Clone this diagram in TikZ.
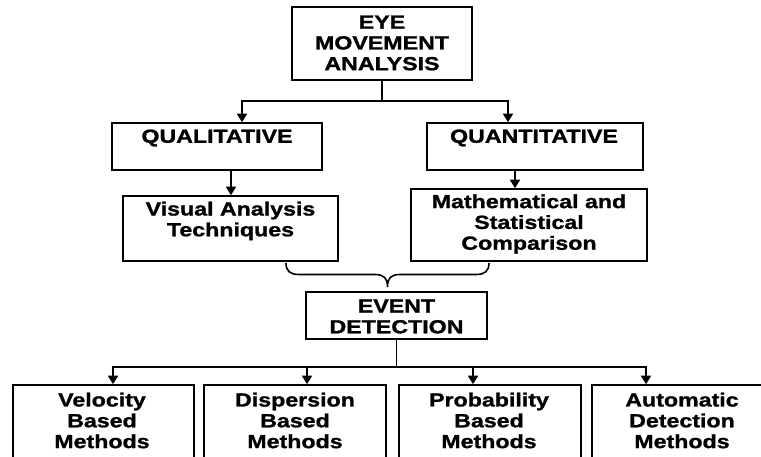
\documentclass[tikz,border=0pt]{standalone}
\usepackage{fontspec}
\newfontfamily\boxfont[FakeStretch=1.22,FakeBold=1.2]{Liberation Sans Bold}
\usetikzlibrary{arrows.meta,calc}
\begin{document}
\begin{tikzpicture}[x=1pt,y=-1pt,
  box/.style={draw=black, line width=1.6pt, fill=white, inner sep=0pt},
  lbl/.style={font=\boxfont\fontsize{19}{20.8}\selectfont, align=center, inner sep=0pt},
  conn/.style={line width=1.6pt},
  arr/.style={conn, -{Triangle[width=10pt,length=8.5pt]}}]
\useasboundingbox (0,0) rectangle (761,457);
\fill[white] (0,0) rectangle (761,457);
\clip (0,0) rectangle (761,457);

% root
\node[box, minimum width=180pt, minimum height=73pt] (top) at (382,43.5) {};
\node[lbl] (topT) at (382,43) {EYE\\MOVEMENT\\ANALYSIS};

% second level
\node[box, minimum width=210pt, minimum height=47pt] (qual) at (217,146.5) {};
\node[lbl] (qualT) at (217,138) {QUALITATIVE};
\node[box, minimum width=216pt, minimum height=47pt] (quant) at (535,146.5) {};
\node[lbl] (quantT) at (534,138) {QUANTITATIVE};

% third level
\node[box, minimum width=215pt, minimum height=65pt] (visual) at (230.5,228.5) {};
\node[lbl] (visualT) at (230.5,221) {Visual Analysis\\Techniques};
\node[box, minimum width=236pt, minimum height=72pt] (math) at (529,225) {};
\node[lbl] (mathT) at (529,224) {Mathematical and\\Statistical\\Comparison};

% event detection
\node[box, minimum width=181pt, minimum height=47pt] (event) at (396.5,315.5) {};
\node[lbl] (eventT) at (396.5,316.5) {EVENT\\DETECTION};

% methods (run past the lower edge)
\node[box, minimum width=181pt, minimum height=85pt] (vel) at (103.5,427.5) {};
\node[lbl] (velT) at (102,420.5) {Velocity\\Based\\Methods};
\node[box, minimum width=182pt, minimum height=85pt] (disp) at (295,427.5) {};
\node[lbl] (dispT) at (295,420.5) {Dispersion\\Based\\Methods};
\node[box, minimum width=182pt, minimum height=85pt] (prob) at (490,427.5) {};
\node[lbl] (probT) at (489,420.5) {Probability\\Based\\Methods};
\node[box, minimum width=181pt, minimum height=85pt] (auto) at (682.5,427.5) {};
\node[lbl] (autoT) at (682,420.5) {Automatic\\Detection\\Methods};

% root split
\draw[conn] (top.south) -- ++(0,20) coordinate (split1);
\coordinate (qualIn) at ($(qual.north)+(25,0)$);
\coordinate (quantIn) at ($(quant.north)+(-27,0)$);
\draw[arr] (split1) -| (qualIn);
\draw[arr] (split1) -| (quantIn);

% down to the techniques
\coordinate (qualOut) at ($(qual.south)+(14,0)$);
\draw[arr] (qualOut) -- (qualOut |- visual.north);
\coordinate (quantOut) at ($(quant.south)+(-20,0)$);
\draw[arr] (quantOut) -- (quantOut |- math.north);

% brace joining both techniques
\coordinate (braceL) at (286,263);
\coordinate (braceR) at (489,263);
\coordinate (braceTip) at (387.5,287);
\draw[conn] (braceL) .. controls (286,271) and (290,274.5) .. (299,274.5)
  -- (375,274.5) .. controls (384,274.5) and (387.5,278) .. (braceTip)
  .. controls (387.5,278) and (391,274.5) .. (400,274.5)
  -- (476,274.5) .. controls (485,274.5) and (489,271) .. (braceR);

% event split
\draw[conn] (event.south) -- ++(0,27) coordinate (split2);
\coordinate (velIn) at ($(vel.north)+(9.5,0)$);
\coordinate (dispIn) at ($(disp.north)+(12,0)$);
\coordinate (probIn) at ($(prob.north)+(-17,0)$);
\coordinate (autoIn) at ($(auto.north)+(-36.5,0)$);
\draw[arr] (split2) -| (velIn);
\draw[arr] (split2) -| (dispIn);
\draw[arr] (split2) -| (probIn);
\draw[arr] (split2) -| (autoIn);
\end{tikzpicture}
\end{document}
